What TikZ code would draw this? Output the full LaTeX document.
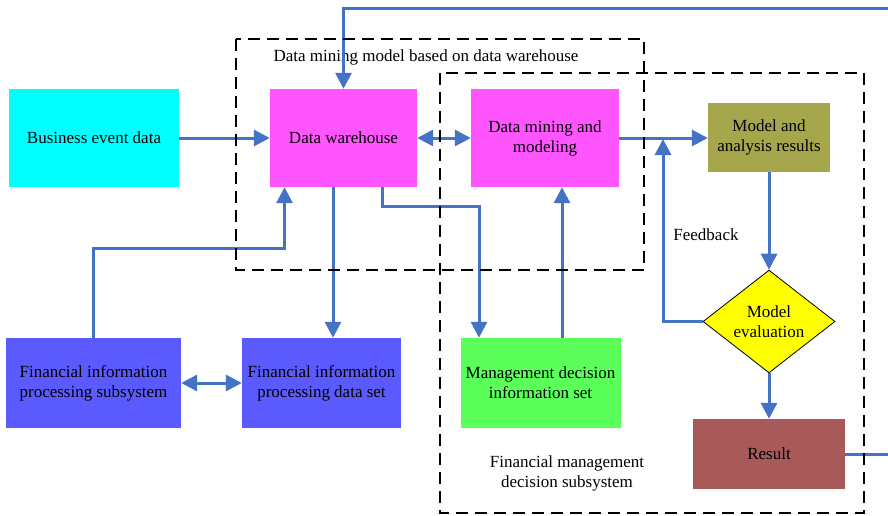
\documentclass[tikz,border=0pt]{standalone}
\usepackage{fontspec}
\setmainfont{Liberation Serif}
\usetikzlibrary{arrows.meta,shapes.geometric}
\definecolor{linkblue}{HTML}{4472C4}
\definecolor{eventcyan}{HTML}{00FFFF}
\definecolor{storemag}{HTML}{FF55FF}
\definecolor{resolive}{HTML}{A6A64C}
\definecolor{evalyellow}{HTML}{FFFF00}
\definecolor{resbrown}{HTML}{A85A5A}
\definecolor{finblue}{HTML}{5A5AFF}
\definecolor{mgmtgreen}{HTML}{5AFF5A}
\begin{document}
\begin{tikzpicture}[x=1pt,y=-1pt,
  txt/.style={font=\fontsize{17}{20}\selectfont,align=center,inner sep=0pt},
  box/.style={txt,rectangle},
  arr/.style={draw=linkblue,line width=3pt,-{Triangle[length=16pt,width=16pt]}},
  dblarr/.style={draw=linkblue,line width=3pt,{Triangle[length=16pt,width=16pt]}-{Triangle[length=16pt,width=16pt]}},
  plainline/.style={draw=linkblue,line width=3pt},
  group/.style={draw=black,line width=1.8pt,dash pattern=on 12pt off 7pt}]
\useasboundingbox (0,0) rectangle (888,515);

% group labels
\node[txt] (lblmine) at (426,57) {Data mining model based on data warehouse};
\node[txt] (lblfin) at (567,473) {Financial management\\decision subsystem};
\node[txt] (lblfb) at (706,235) {Feedback};

% blocks
\node[box,fill=eventcyan,minimum width=170pt,minimum height=98pt] (bed) at (94,138) {\raisebox{-1pt}{Business event data}};
\node[box,fill=storemag,minimum width=147pt,minimum height=98pt] (dw) at (343.5,138) {\raisebox{-1pt}{Data warehouse}};
\node[box,fill=storemag,minimum width=148pt,minimum height=98pt] (dm) at (545,138) {Data mining and\\modeling};
\node[box,fill=resolive,minimum width=122pt,minimum height=69pt] (mar) at (769,137.5) {Model and\\analysis results};
\node[txt,shape=diamond,draw=black,line width=0.8pt,fill=evalyellow,minimum width=132pt,minimum height=93pt] (dia) at (769,321.5) {Model\\evaluation};
\node[box,fill=resbrown,minimum width=152pt,minimum height=70pt] (res) at (769,454) {Result};
\node[box,fill=finblue,minimum width=175pt,minimum height=90pt] (fps) at (93.5,383) {Financial information\\processing subsystem};
\node[box,fill=finblue,minimum width=159pt,minimum height=90pt] (fds) at (321.5,383) {Financial information\\processing data set};
\node[box,fill=mgmtgreen,minimum width=160pt,minimum height=90pt] (mdi) at (540.5,383) {Management decision\\information set};

% free ends at the page edge and the feedback junction
\coordinate (rout) at (888,454);
\coordinate (tin) at (888,8);
\coordinate (fb) at (663,139);

% connectors
\draw[arr] (bed.east) -- (dw.west);
\draw[dblarr] (dw.east) -- (dm.west);
\draw[arr] (dm.east) -- (dm.east -| mar.west);
\draw[arr] (dia.west) -| (fb);
\draw[arr] (mar.south) -- (dia.north);
\draw[arr] (dia.south) -- (res.north);
\draw[plainline] (res.east) -- (rout);
\draw[arr] (tin) -| (dw.north);
\draw[arr] ([xshift=-10.5pt]dw.south) -- ([xshift=-10.5pt]dw.south |- fds.north);
\draw[arr] ([xshift=38.5pt]dw.south) -- ++(0,19) -| ([xshift=-61.5pt]mdi.north);
\draw[arr] (fps.north) -- ++(0,-89) -| ([xshift=-59pt]dw.south);
\draw[dblarr] (fps.east) -- (fds.west);
\draw[arr] ([xshift=21.5pt]mdi.north) -- ([xshift=21.5pt]mdi.north |- dm.south);

% dashed group outlines
\draw[group] (236,39) rectangle (644,270);
\draw[group] (440,73) rectangle (864,513);
\end{tikzpicture}
\end{document}
